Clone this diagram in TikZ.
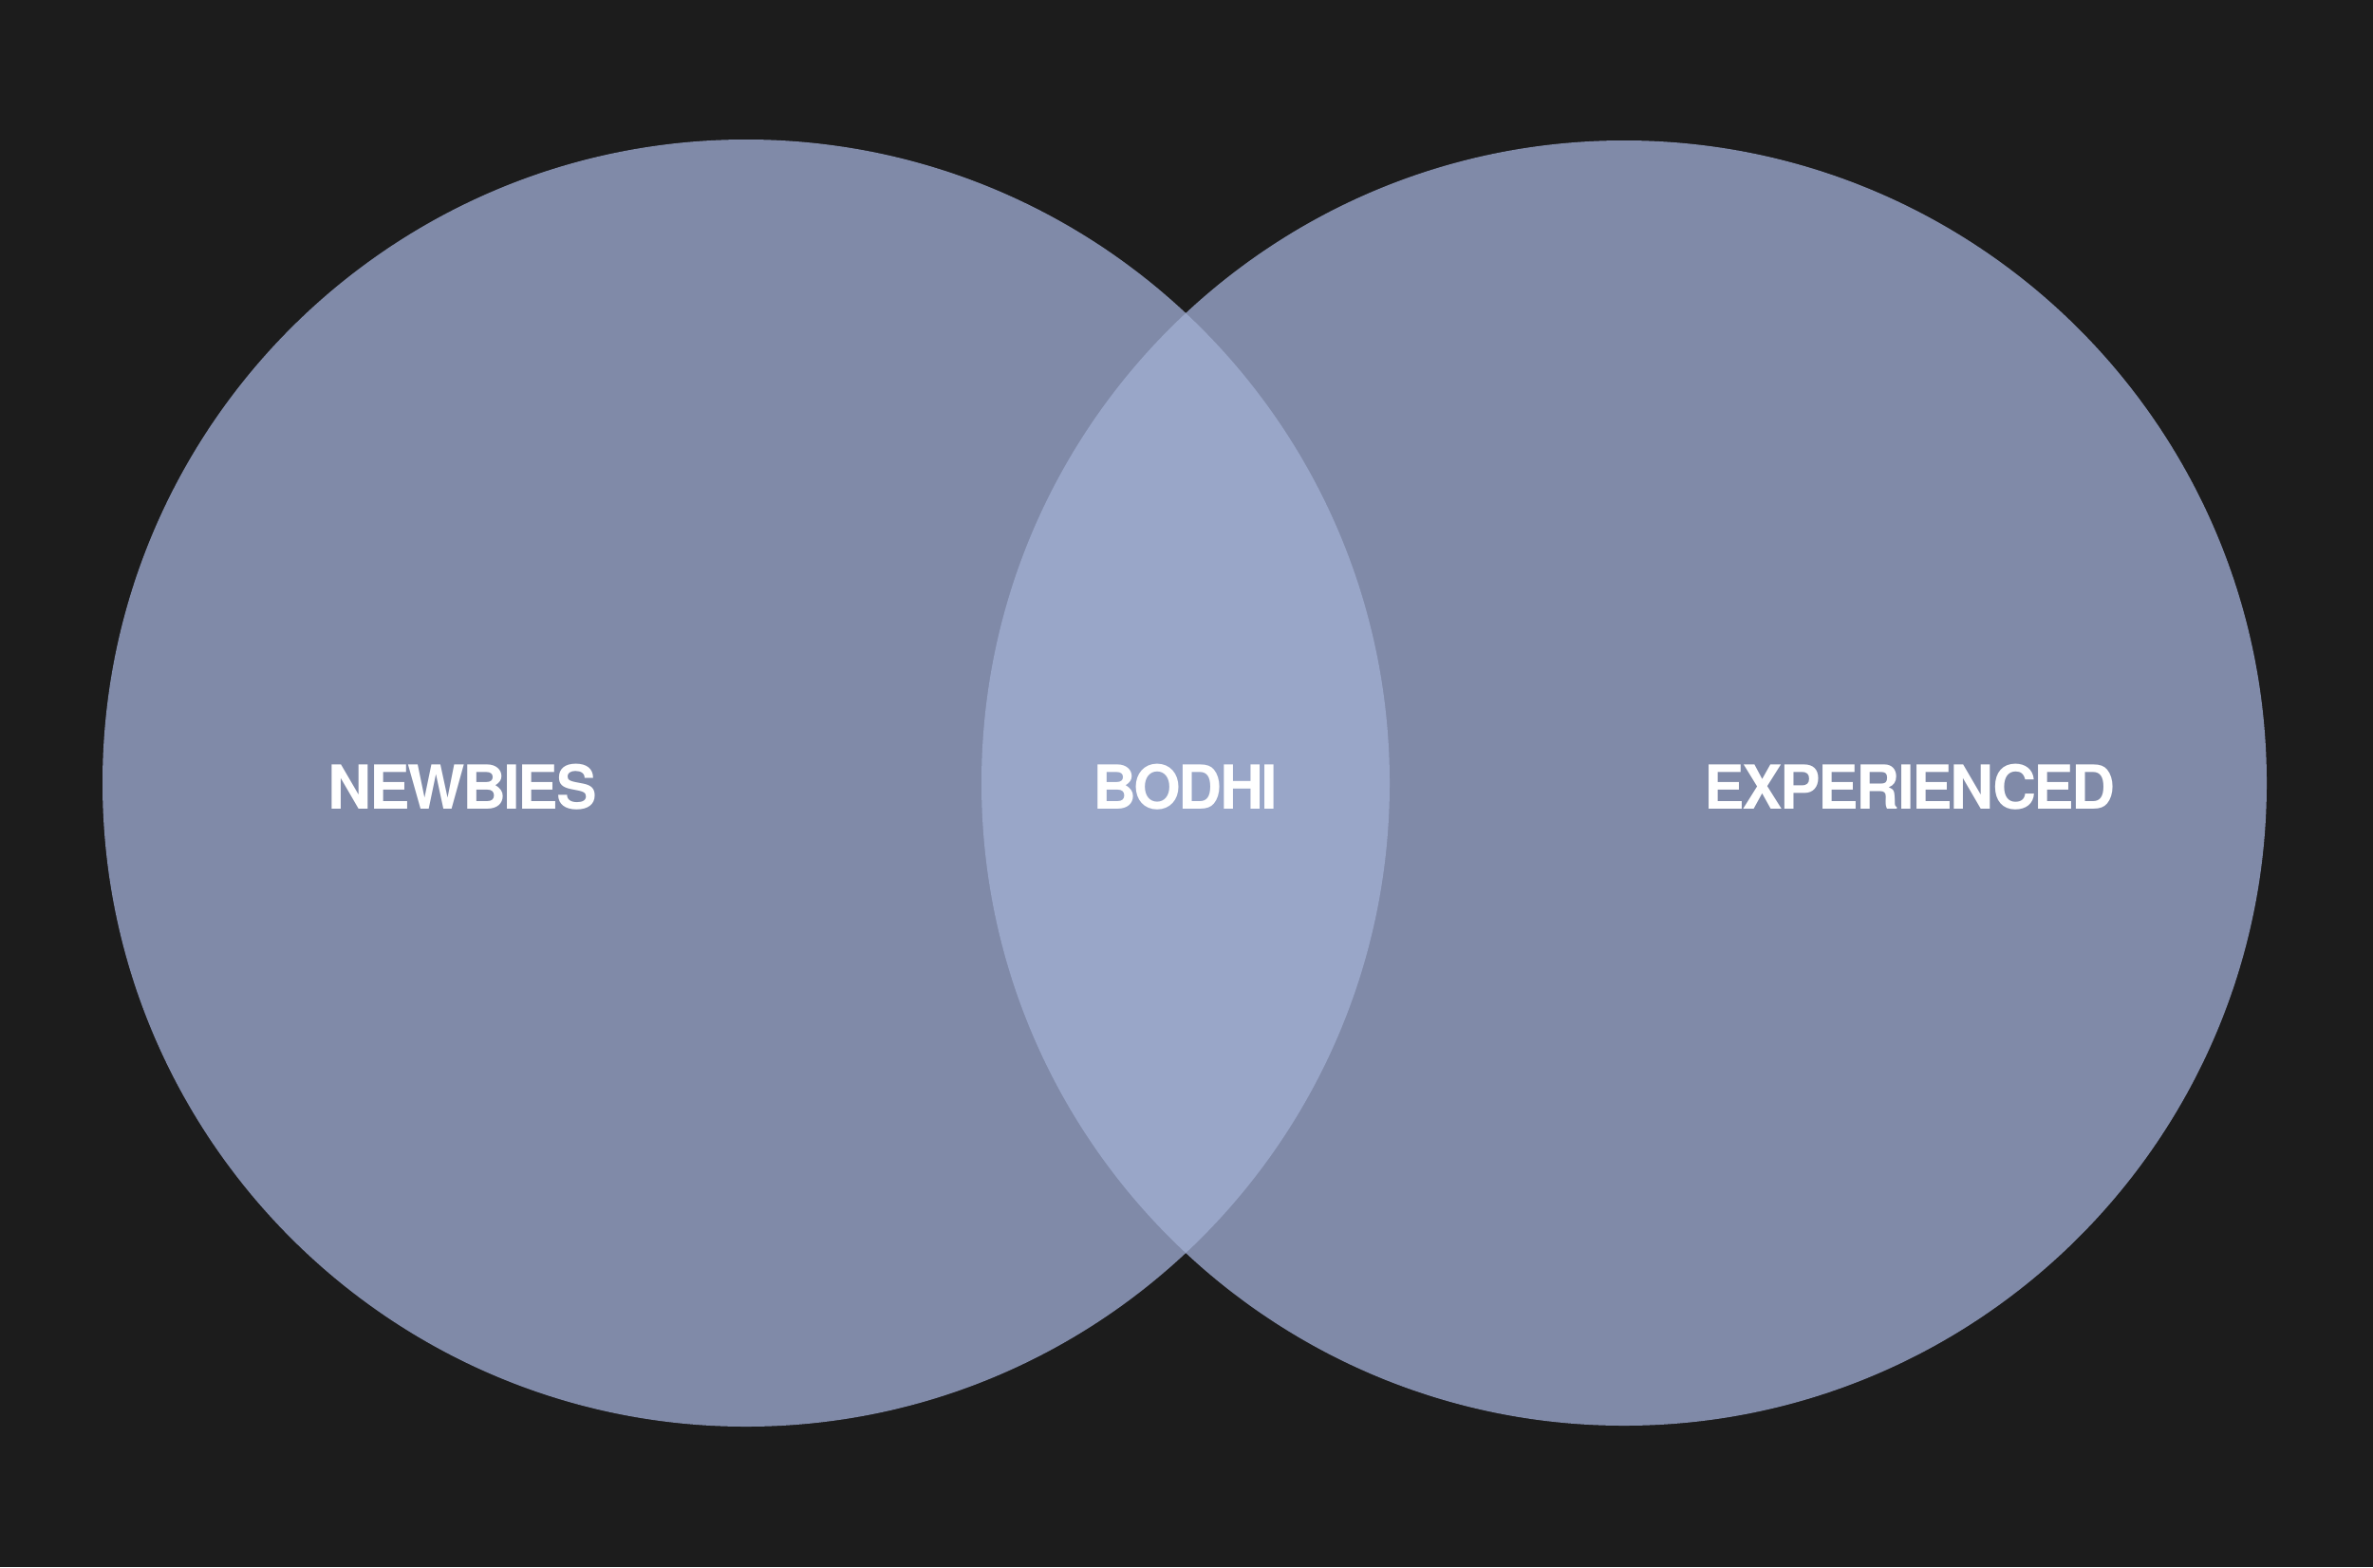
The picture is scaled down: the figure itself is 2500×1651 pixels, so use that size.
\documentclass[tikz,border=0pt]{standalone}
\usepackage{fontspec}
\setmainfont{TeX Gyre Heros}[LetterSpace=-4]
\definecolor{bg}{HTML}{1C1C1C}
\definecolor{circ}{HTML}{808AA8}
\definecolor{overlap}{HTML}{99A6C8}
\begin{document}
\begin{tikzpicture}[x=0.01cm,y=-0.01cm,
  lbl/.style={text=white,font=\fontsize{18.2pt}{19pt}\selectfont\bfseries,inner sep=0pt,anchor=center}]
\fill[bg] (0,0) rectangle (2500,1651);
\useasboundingbox (0,0) rectangle (2500,1651);
\fill[circ] (786,825) circle[radius=678];
\fill[circ] (1711,825) circle[radius=677];
\begin{scope}
  \clip (786,825) circle[radius=678];
  \fill[overlap] (1711,825) circle[radius=677];
\end{scope}
\node[lbl] (newbies) at (487,829) {NEWBIES};
\node[lbl] (bodhi) at (1249,829) {BODHI};
\node[lbl] (exp) at (2012,829) {EXPERIENCED};
\end{tikzpicture}
\end{document}
